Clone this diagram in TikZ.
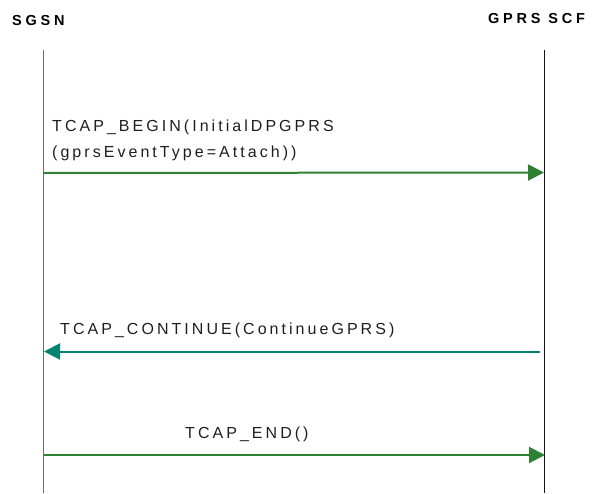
\documentclass[tikz,border=0pt]{standalone}
\usepackage{fontspec}
\setmainfont{Liberation Sans}
\newfontfamily\msgfont[LetterSpace=19]{Liberation Sans}
\newfontfamily\hdrfont[LetterSpace=26]{Liberation Sans}
\usetikzlibrary{arrows.meta}
\definecolor{msggreen}{RGB}{46,128,50}
\definecolor{msgteal}{RGB}{0,134,112}
\definecolor{txtgray}{RGB}{30,30,30}
\tikzset{
  lifeline/.style={line width=1pt},
  msg/.style={line width=2pt,-{Triangle[length=16pt,width=16pt]}},
  msgtext/.style={anchor=base west,inner sep=0pt,text=txtgray,font=\msgfont\fontsize{16}{26}\selectfont},
  hdr/.style={anchor=base west,inner sep=0pt,text=black,font=\hdrfont\bfseries\fontsize{14.5}{16}\selectfont},
}
\begin{document}
\begin{tikzpicture}[x=1pt,y=-1pt]
\useasboundingbox (0,0) rectangle (597,493);
% headers
\node[hdr] (sgsn) at (12,25.5) {SGSN};
\node[hdr] (scf) at (488,23.5) {GPRS SCF};
% lifelines
\coordinate (lt) at (43.5,50);
\coordinate (lb) at (43.5,493);
\coordinate (rt) at (544,50);
\coordinate (rb) at (544,493);
\draw[lifeline,draw={rgb,255:red,110;green,110;blue,110}] (lt) -- (lb);
\draw[lifeline,draw={rgb,255:red,20;green,20;blue,20}] (rt) -- (rb);
% message 1
\coordinate (m1s) at (43.5,173);
\coordinate (m1e) at (544,172.5);
\draw[msg,draw=msggreen,fill=msggreen] (m1s) -- (m1e);
\node[msgtext] (t1a) at (52,131) {TCAP\_BEGIN(InitialDPGPRS};
\node[msgtext] (t1b) at (52,157) {(gprsEventType=Attach))};
% message 2
\coordinate (m2s) at (540,351.5);
\coordinate (m2e) at (44,351.5);
\draw[msg,draw=msgteal,fill=msgteal] (m2s) -- (m2e);
\node[msgtext] (t2) at (60,334) {TCAP\_CONTINUE(ContinueGPRS)};
% message 3
\coordinate (m3s) at (43.5,455);
\coordinate (m3e) at (545,455);
\draw[msg,draw=msggreen,fill=msggreen] (m3s) -- (m3e);
\node[msgtext] (t3) at (185,438) {TCAP\_END()};
\end{tikzpicture}
\end{document}
